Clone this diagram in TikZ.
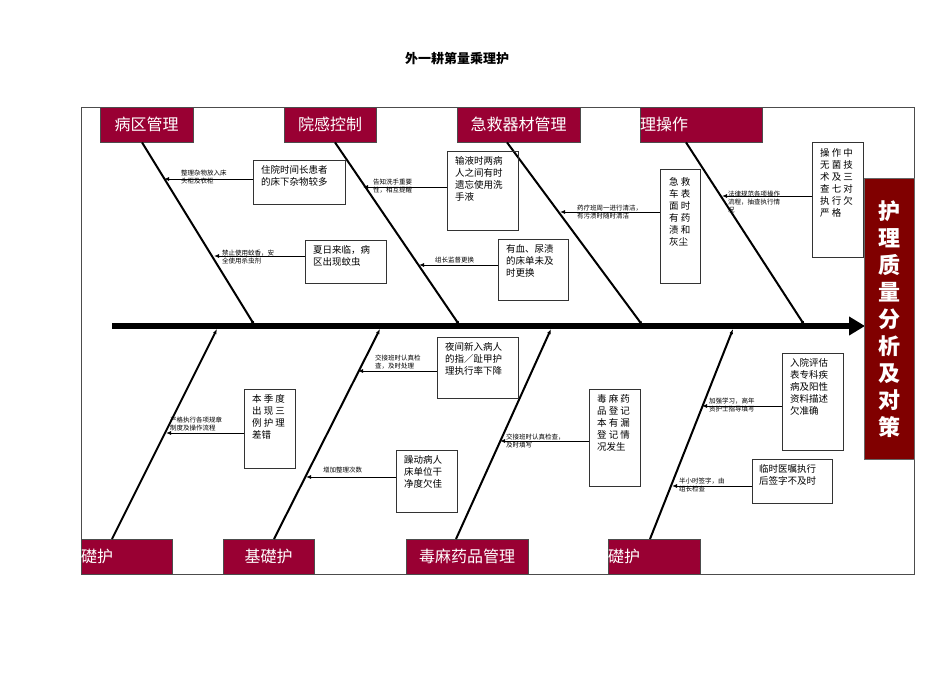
\documentclass[tikz,border=0pt]{standalone}
\usepackage{fontspec}
\setmainfont{Noto Sans CJK SC}
\usetikzlibrary{arrows.meta}
\definecolor{lab}{HTML}{990033}
\definecolor{dark}{HTML}{800000}
\begin{document}
\begin{tikzpicture}[x=1pt,y=-1pt,
  lab/.style={fill=lab,draw=black!70,anchor=north west,inner sep=0,text=white,font=\fontsize{16}{16}\selectfont},
  bx/.style={draw=black!80,line width=0.8pt,anchor=north west,inner sep=0},
  bt/.style={anchor=north west,align=left,font=\fontsize{9.5}{12}\selectfont,inner sep=0},
  st/.style={anchor=south west,align=left,font=\fontsize{6.5}{8}\selectfont,inner sep=0},
  bone/.style={line width=2pt},
  arr/.style={line width=0.9pt,-{Latex[length=5pt,width=4pt]}}]
\useasboundingbox (0,0) rectangle (950,672);
\node[font=\bfseries\fontsize{13}{13}\selectfont] (title) at (457,59) {外一耕第量乘理护};
\draw[line width=0.8pt,black!70] (81,107) rectangle (914,574);
% spine
\coordinate (s0) at (112,326); \coordinate (s1) at (865,326);
\draw[line width=6pt,-{Triangle[length=16pt,width=18pt]}] (s0) -- (s1);
\node[fill=dark,draw=black!60,anchor=north west,minimum width=50,minimum height=281,inner sep=0] (res) at (864,178) {};
\node[text=white,align=center,font=\bfseries\fontsize{22}{27}\selectfont] at (res.center) {护\\理\\质\\量\\分\\析\\及\\对\\策};
% top labels
\node[lab,minimum width=93,minimum height=35] (L1) at (100,107) {};
\node[text=white,font=\fontsize{16}{16}\selectfont] at (L1.center) {病区管理};
\node[lab,minimum width=92,minimum height=35] (L2) at (284,107) {};
\node[text=white,font=\fontsize{16}{16}\selectfont] at (L2.center) {院感控制};
\node[lab,minimum width=123,minimum height=35] (L3) at (457,107) {};
\node[text=white,font=\fontsize{16}{16}\selectfont] at (L3.center) {急救器材管理};
\node[lab,minimum width=122,minimum height=35] (L4) at (640,107) {};
\node[text=white,anchor=west,inner sep=0,font=\fontsize{16}{16}\selectfont] at (L4.west) {理操作};
% bottom labels
\node[lab,minimum width=91,minimum height=35] (B1) at (81,539) {};
\node[text=white,anchor=west,inner sep=0,font=\fontsize{16}{16}\selectfont] at (B1.west) {礎护};
\node[lab,minimum width=91,minimum height=35] (B2) at (223,539) {};
\node[text=white,font=\fontsize{16}{16}\selectfont] at (B2.center) {基礎护};
\node[lab,minimum width=122,minimum height=35] (B3) at (406,539) {};
\node[text=white,font=\fontsize{16}{16}\selectfont] at (B3.center) {毒麻药品管理};
\node[lab,minimum width=92,minimum height=35] (B4) at (608,539) {};
\node[text=white,anchor=west,inner sep=0,font=\fontsize{16}{16}\selectfont] at (B4.west) {礎护};
% bones
\coordinate (t1) at (255,326); \coordinate (t2) at (460,326); \coordinate (t3) at (643,326); \coordinate (t4) at (805,326);
\coordinate (u1) at (217,329); \coordinate (u2) at (380,329); \coordinate (u3) at (551,329); \coordinate (u4) at (733,329);
\draw[bone,-{Latex[length=5pt]}] (L1.south -| 142,0) -- (t1);
\draw[bone,-{Latex[length=5pt]}] (L2.south -| 335,0) -- (t2);
\draw[bone,-{Latex[length=5pt]}] (L3.south -| 507,0) -- (t3);
\draw[bone,-{Latex[length=5pt]}] (L4.south -| 686,0) -- (t4);
\draw[bone,-{Latex[length=5pt]}] (B1.north -| 112,0) -- (u1);
\draw[bone,-{Latex[length=5pt]}] (B2.north -| 274,0) -- (u2);
\draw[bone,-{Latex[length=5pt]}] (B3.north -| 456,0) -- (u3);
\draw[bone,-{Latex[length=5pt]}] (B4.north -| 650,0) -- (u4);
% top boxes
\node[bx,minimum width=92,minimum height=44] (b1) at (253,160) {};
\node[bt] at ([shift={(8,5)}]b1.north west) {住院时间长患者\\的床下杂物较多};
\coordinate (a1) at (164,179); \draw[arr] (b1.west|-a1) -- (a1);
\node[st] at (181,184) {整理杂物放入床\\头柜及衣柜};
\node[bx,minimum width=81,minimum height=43] (b2) at (305,240) {};
\node[bt] at ([shift={(8,5)}]b2.north west) {夏日来临，病\\区出现蚊虫};
\coordinate (a2) at (214,256); \draw[arr] (b2.west|-a2) -- (a2);
\node[st] at (222,264) {禁止使用蚊香，安\\全使用杀虫剂};
\node[bx,minimum width=71,minimum height=79] (b3) at (447,151) {};
\node[bt] at ([shift={(8,5)}]b3.north west) {输液时两病\\人之间有时\\遗忘使用洗\\手液};
\coordinate (a3) at (363,187); \draw[arr] (b3.west|-a3) -- (a3);
\node[st] at (373,193) {告知洗手重要\\性，相互提醒};
\node[bx,minimum width=70,minimum height=61] (b4) at (498,239) {};
\node[bt] at ([shift={(8,5)}]b4.north west) {有血、尿渍\\的床单未及\\时更换};
\coordinate (a4) at (419,265); \draw[arr] (b4.west|-a4) -- (a4);
\node[st] at (435,263) {组长监督更换};
\node[bx,minimum width=40,minimum height=114] (b5) at (660,169) {};
\node[bt] at ([shift={(9,8)}]b5.north west) {急 救\\车 表\\面 时\\有 药\\渍 和\\灰尘};
\coordinate (a5) at (560,212); \draw[arr] (b5.west|-a5) -- (a5);
\node[st] at (577,219) {药疗班周一进行清洁，\\有污渍时随时清洁};
\node[bx,minimum width=51,minimum height=115] (b6) at (812,142) {};
\node[bt] at ([shift={(8,6)}]b6.north west) {操 作 中\\无 菌 技\\术 及 三\\查 七 对\\执 行 欠\\严 格};
\coordinate (a6) at (722,196); \draw[arr] (b6.west|-a6) -- (a6);
\node[st] at (728,213) {法律规范各项操作\\流程，抽查执行情\\况};
% bottom boxes
\node[bx,minimum width=51,minimum height=79] (b7) at (244,389) {};
\node[bt] at ([shift={(8,5)}]b7.north west) {本 季 度\\出 现 三\\例 护 理\\差错};
\coordinate (a7) at (166,433); \draw[arr] (b7.west|-a7) -- (a7);
\node[st] at (170,431) {严格执行各项规章\\制度及操作流程};
\node[bx,minimum width=81,minimum height=61] (b8) at (437,337) {};
\node[bt] at ([shift={(8,5)}]b8.north west) {夜间新入病人\\的指／趾甲护\\理执行率下降};
\coordinate (a8) at (358,371); \draw[arr] (b8.west|-a8) -- (a8);
\node[st] at (375,369) {交接班时认真检\\查，及时处理};
\node[bx,minimum width=61,minimum height=62] (b9) at (396,450) {};
\node[bt] at ([shift={(8,5)}]b9.north west) {躁动病人\\床单位干\\净度欠佳};
\coordinate (a9) at (306,477); \draw[arr] (b9.west|-a9) -- (a9);
\node[st] at (323,473) {增加整理次数};
\node[bx,minimum width=51,minimum height=97] (b10) at (589,389) {};
\node[bt] at ([shift={(8,5)}]b10.north west) {毒 麻 药\\品 登 记\\本 有 漏\\登 记 情\\况发生};
\coordinate (a10) at (500,441); \draw[arr] (b10.west|-a10) -- (a10);
\node[st] at (506,448) {交接班时认真检查，\\及时填写};
\node[bx,minimum width=61,minimum height=97] (b11) at (782,353) {};
\node[bt] at ([shift={(8,5)}]b11.north west) {入院评估\\表专科疾\\病及阳性\\资料描述\\欠准确};
\coordinate (a11) at (702,406); \draw[arr] (b11.west|-a11) -- (a11);
\node[st] at (709,412) {加强学习，高年\\资护士指导填写};
\node[bx,minimum width=80,minimum height=44] (b12) at (752,459) {};
\node[bt] at ([shift={(7,5)}]b12.north west) {临时医嘱执行\\后签字不及时};
\coordinate (a12) at (672,486); \draw[arr] (b12.west|-a12) -- (a12);
\node[st] at (679,492) {半小时签字，由\\组长检查};
\end{tikzpicture}
\end{document}
